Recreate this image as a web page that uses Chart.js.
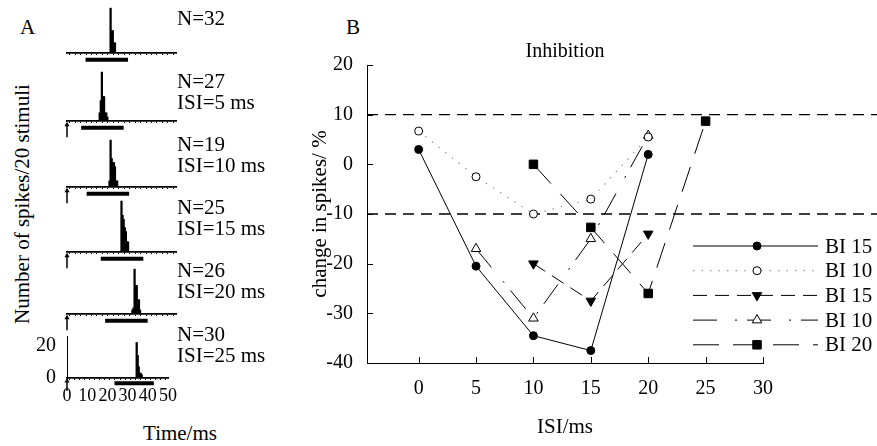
<!DOCTYPE html>
<html>
<head>
<meta charset="utf-8">
<style>
body { margin: 0; background: #fff; }
#fig { position: relative; width: 877px; height: 446px; overflow: hidden; font-family: "Liberation Serif", "Times New Roman", serif; color: #000; }
#fig canvas { position: absolute; }
.t { position: absolute; font-size: 21px; line-height: 22px; white-space: nowrap; }
</style>
</head>
<body>
<div id="fig">
  <div class="t" style="left:20px;top:16px">A</div>
  <div class="t" style="left:346px;top:16px">B</div>
  <div class="t" style="left:22px;top:204px;transform:translate(-50%,-50%) rotate(-90deg)">Number of spikes/20 stimuli</div>
  <div class="t" style="left:180px;top:433px;transform:translate(-50%,-50%)">Time/ms</div>
  <canvas id="chartB" width="587" height="446" style="left:290px;top:0"></canvas>
</div>
<script src="https://cdn.jsdelivr.net/npm/chart.js@4.4.1/dist/chart.umd.min.js"></script>
<script>
// ---- panel A: PSTHs, spikes per 0.5 ms bin ----
const binWidth = 0.5;
const binStart = [20, 15, 19.5, 25, 30, 34.5];
const hist1 = [22, 11, 11, 5, 5];
const hist2 = [4, 10, 24, 12, 12, 4, 4, 2];
const hist3 = [3, 23, 14, 12, 12, 10, 3, 3];
const hist4 = [25, 18, 16, 12, 10, 5, 5];
const hist5 = [2, 3, 22, 14, 14, 7, 7, 2];
const hist6 = [22, 14, 7, 3, 3, 2];
const hists = [hist1, hist2, hist3, hist4, hist5, hist6];
const stimOn = [8.5, 6.5, 9, 15.5, 17.5, 23.5];
const stimOff = [28, 26, 28.5, 35, 37, 43];
const hasArrow = [false, true, true, true, true, true];
const spikeN = [32, 27, 19, 25, 26, 30];
const isiText = ['', '5 ms', '10 ms', '15 ms', '20 ms', '25 ms'];
const timeTicks = [0, 10, 20, 30, 40, 50];
const countTicks = [0, 20];

// ---- panel B: change in spikes (%) vs ISI ----
const isi = [0, 5, 10, 15, 20, 25];
const bi15a = [3, -20.5, -34.5, -37.5, 2, null];
const bi10a = [6.7, -2.5, -10, -7, 5.5, null];
const bi15b = [null, null, -20, -27.5, -14, null];
const bi10b = [null, -17, -31, -15, 5.8, null];
const bi20 = [null, null, 0, -12.7, -26, 8.7];
const seriesNames = ['BI 15', 'BI 10', 'BI 15', 'BI 10', 'BI 20'];
const thresholds = [10, -10];
const isiTicks = [0, 5, 10, 15, 20, 25, 30];
const changeTicks = [-40, -30, -20, -10, 0, 10, 20];

const serif = '"Liberation Serif", "Times New Roman", serif';
Chart.defaults.font.family = serif;
Chart.defaults.color = '#000';

const fig = document.getElementById('fig');
const baseY = [53, 121, 187, 252, 314, 378];
const nY = [18, 81, 144, 207, 270, 334];

function addText(txt, left, cy) {
  const d = document.createElement('div');
  d.className = 't';
  d.style.left = left + 'px';
  d.style.top = (cy - 11) + 'px';
  d.textContent = txt;
  fig.appendChild(d);
}

hists.forEach(function (h, i) {
  const last = i === hists.length - 1;
  const cv = document.createElement('canvas');
  cv.width = 146; cv.height = 87;
  cv.style.left = '36px';
  cv.style.top = (baseY[i] - 57) + 'px';
  fig.appendChild(cv);

  addText('N=' + spikeN[i], 177, nY[i]);
  if (isiText[i]) addText('ISI=' + isiText[i], 177, nY[i] + 21);

  const datasets = [
    { type: 'bar', data: h.map(function (n, k) { return { x: binStart[i] + k * binWidth, y: n }; }),
      backgroundColor: '#000', barThickness: 1.6 },
    { type: 'line', data: [{ x: stimOn[i], y: -3.3 }, { x: stimOff[i], y: -3.3 }],
      borderColor: '#000', borderWidth: 4, pointRadius: 0, clip: false }
  ];
  if (hasArrow[i]) {
    datasets.push({ type: 'line', data: [{ x: 0, y: -8 }, { x: 0, y: -1.8 }],
      borderColor: '#000', backgroundColor: '#000', borderWidth: 1.5,
      pointStyle: 'triangle', pointRadius: [0, 3], pointBorderWidth: 0, clip: false });
  }

  new Chart(cv, {
    type: 'bar',
    data: { datasets: datasets },
    options: {
      responsive: false, animation: false, events: [],
      layout: { padding: { top: 4, right: 6 } },
      plugins: { legend: { display: false }, tooltip: { enabled: false } },
      scales: {
        x: {
          type: 'linear', min: 0, max: 50, offset: false,
          afterFit: function (s) { s.height = 30; },
          afterBuildTicks: function (s) {
            const t = [];
            for (let v = 0; v <= 50; v += 2.5) t.push({ value: v });
            s.ticks = t;
          },
          border: { color: '#000', width: 1.8 },
          grid: { drawOnChartArea: false, tickLength: 2, color: '#000' },
          ticks: {
            display: last, autoSkip: false, maxRotation: 0, padding: 5,
            font: { size: 18 },
            callback: function (v) { return timeTicks.indexOf(v) >= 0 ? String(v) : ''; }
          }
        },
        y: {
          min: 0, max: 26,
          afterFit: function (s) { s.width = 31; },
          afterBuildTicks: function (s) { s.ticks = countTicks.map(function (v) { return { value: v }; }); },
          grid: { display: false },
          border: { display: last, color: '#000' },
          ticks: { display: last, padding: 3, font: { size: 20 } }
        }
      }
    }
  });
});

// ---- panel B chart ----
function pts(ys) {
  return isi.map(function (x, k) { return { x: x, y: ys[k] }; }).filter(function (p) { return p.y !== null; });
}

const seriesB = [
  { label: seriesNames[0], data: pts(bi15a), borderColor: '#000', borderWidth: 1, borderDash: [],
    pointStyle: 'circle', pointRadius: 4, pointBackgroundColor: '#000', pointBorderColor: '#000' },
  { label: seriesNames[1], data: pts(bi10a), borderColor: '#999', borderWidth: 1.2, borderDash: [1.5, 7],
    pointStyle: 'circle', pointRadius: 4, pointBackgroundColor: '#fff', pointBorderColor: '#000', pointBorderWidth: 1 },
  { label: seriesNames[2], data: pts(bi15b), borderColor: '#000', borderWidth: 1, borderDash: [14, 8],
    pointStyle: 'triangle', pointRotation: 180, pointRadius: 5.5, pointBackgroundColor: '#000', pointBorderColor: '#000' },
  { label: seriesNames[3], data: pts(bi10b), borderColor: '#000', borderWidth: 1, borderDash: [24, 18, 2, 10],
    pointStyle: 'triangle', pointRadius: 5.5, pointBackgroundColor: '#fff', pointBorderColor: '#000', pointBorderWidth: 1 },
  { label: seriesNames[4], data: pts(bi20), borderColor: '#000', borderWidth: 1, borderDash: [26, 14],
    pointStyle: 'rect', pointRadius: 6, pointBackgroundColor: '#000', pointBorderColor: '#000' }
];
const threshB = thresholds.map(function (v) {
  return { data: [{ x: -4.5, y: v }, { x: 40, y: v }], borderColor: '#000', borderWidth: 1.3,
    borderDash: [11, 7], pointRadius: 0, clip: false };
});

const inwardTicks = {
  id: 'inwardTicks',
  afterDraw: function (chart) {
    const ctx = chart.ctx, a = chart.chartArea, xs = chart.scales.x, ys = chart.scales.y;
    ctx.save();
    ctx.strokeStyle = '#000';
    ctx.lineWidth = 1;
    ctx.setLineDash([]);
    ctx.beginPath();
    xs.ticks.forEach(function (t) {
      const px = Math.round(xs.getPixelForValue(t.value)) + 0.5;
      ctx.moveTo(px, a.bottom); ctx.lineTo(px, a.bottom - 6);
    });
    ys.ticks.forEach(function (t) {
      const py = Math.round(ys.getPixelForValue(t.value)) + 0.5;
      ctx.moveTo(a.left, py); ctx.lineTo(a.left + 6, py);
    });
    ctx.stroke();
    ctx.restore();
  }
};

const legendB = {
  id: 'legendB',
  afterDraw: function (chart) {
    const ctx = chart.ctx;
    const x0 = 403, x1 = 528, mx = 467, tx = 535, y0 = 246, dy = 24.7;
    ctx.save();
    seriesNames.forEach(function (name, i) {
      const ds = chart.data.datasets[i];
      const y = y0 + i * dy;
      ctx.strokeStyle = ds.borderColor;
      ctx.lineWidth = ds.borderWidth;
      ctx.setLineDash(ds.borderDash || []);
      ctx.beginPath(); ctx.moveTo(x0, y); ctx.lineTo(x1, y); ctx.stroke();
      ctx.setLineDash([]);
      ctx.fillStyle = ds.pointBackgroundColor;
      ctx.strokeStyle = ds.pointBorderColor;
      ctx.lineWidth = 1;
      Chart.helpers.drawPoint(ctx, { pointStyle: ds.pointStyle, rotation: ds.pointRotation || 0,
        radius: ds.pointRadius, borderWidth: 1 }, mx, y);
      ctx.fillStyle = '#000';
      ctx.font = '21px ' + serif;
      ctx.textBaseline = 'middle';
      ctx.fillText(name, tx, y + 1);
    });
    ctx.restore();
  }
};

new Chart(document.getElementById('chartB'), {
  type: 'line',
  data: { datasets: seriesB.concat(threshB) },
  options: {
    responsive: false, animation: false, events: [],
    layout: { padding: { right: 114 } },
    plugins: {
      legend: { display: false }, tooltip: { enabled: false },
      title: { display: true, fullSize: false, text: 'Inhibition', font: { size: 20, weight: 'normal' }, padding: { top: 40, bottom: 1 } }
    },
    scales: {
      x: {
        type: 'linear', min: -4.5, max: 30,
        afterBuildTicks: function (s) { s.ticks = isiTicks.map(function (v) { return { value: v }; }); },
        afterFit: function (s) { s.height = 83; },
        grid: { display: false },
        border: { color: '#000' },
        ticks: { autoSkip: false, maxRotation: 0, padding: 6, font: { size: 20 } },
        title: { display: true, text: 'ISI/ms', font: { size: 21 }, padding: { top: 0, bottom: 6 } }
      },
      y: {
        min: -40, max: 20,
        afterBuildTicks: function (s) { s.ticks = changeTicks.map(function (v) { return { value: v }; }); },
        afterFit: function (s) { s.width = 77; },
        grid: { display: false },
        border: { color: '#000' },
        ticks: { padding: 6, font: { size: 20 } },
        title: { display: true, text: 'change in spikes/ %', font: { size: 21 }, padding: { top: 18, bottom: 0 } }
      }
    }
  },
  plugins: [inwardTicks, legendB]
});
</script>
</body>
</html>
